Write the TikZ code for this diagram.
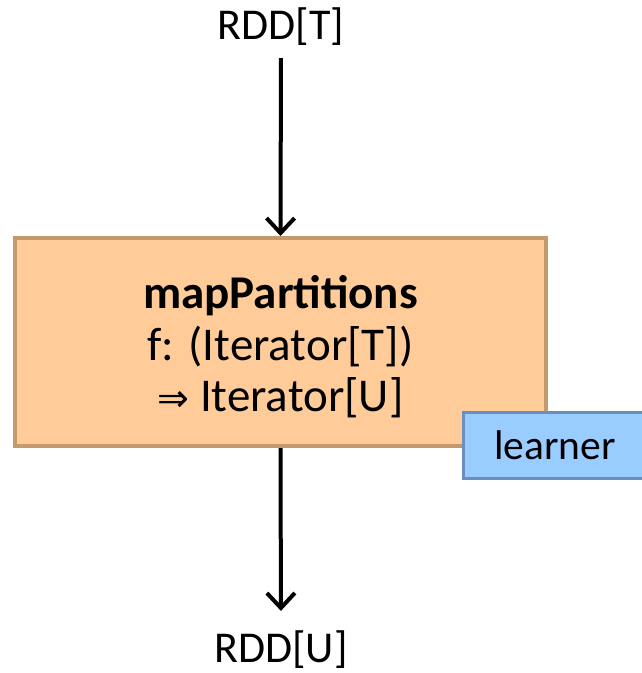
\documentclass[tikz,border=0pt]{standalone}
\usepackage{fontspec}
\setmainfont{Carlito}
\newfontfamily\arrowfont{DejaVu Sans}
\usetikzlibrary{arrows.meta}
\definecolor{mapfill}{HTML}{FFCC99}
\definecolor{mapedge}{HTML}{C49A6C}
\definecolor{learnfill}{HTML}{99CCFF}
\definecolor{learnedge}{HTML}{6C8EBF}
\tikzset{
  lbl/.style={inner sep=0pt, font=\fontsize{44}{52}\selectfont},
  mapbox/.style={draw=mapedge, fill=mapfill, line width=4pt,
    minimum width=531pt, minimum height=208pt, align=center,
    font=\fontsize{47}{52}\selectfont},
  learnbox/.style={draw=learnedge, fill=learnfill, line width=3pt,
    minimum width=184pt, minimum height=66pt, inner sep=0pt,
    font=\fontsize{41.5}{46}\selectfont},
  flow/.style={line width=4pt, -{Straight Barb[length=15pt,width=28pt,line width=4pt]}}
}
\begin{document}
\begin{tikzpicture}[x=1pt,y=-1pt]
  \useasboundingbox (0,0) rectangle (642,673);
  % input and output labels
  \node[lbl] (rddT) at (281,27) {RDD[T]};
  \node[lbl] (rddU) at (281,650) {RDD[U]};
  % operator box
  \node[mapbox] (map) at (280.5,342) {};
  \node[align=center, font=\fontsize{47}{51.5}\selectfont] (maptext) at (280.5,347)
    {\textbf{mapPartitions}\\f: (Iterator[T])\\{\arrowfont\fontsize{38}{52}\selectfont ⇒} Iterator[U]};
  % learner tag on the lower right corner
  \node[learnbox] (learner) at (555,445) {learner};
  % data flow
  \draw[flow, shorten <=12pt] (rddT.south) -- (map.north);
  \draw[flow, shorten >=20pt] (map.south) -- (rddU.north);
\end{tikzpicture}
\end{document}
